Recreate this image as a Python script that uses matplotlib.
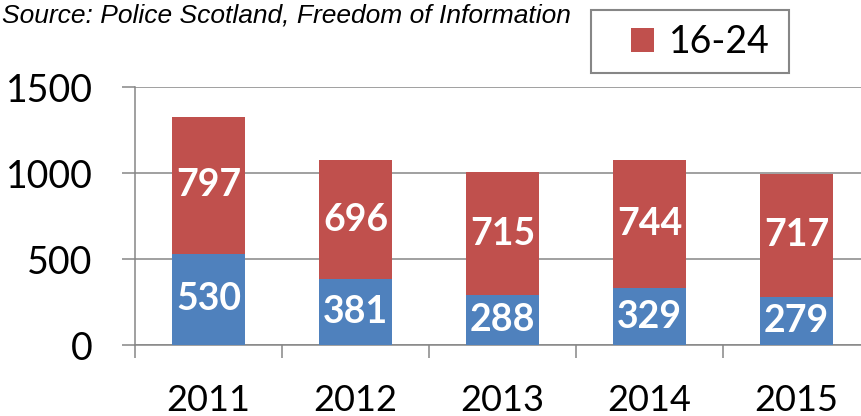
import matplotlib.pyplot as plt
from matplotlib.patches import Rectangle
import numpy as np

years = ["2011", "2012", "2013", "2014", "2015"]
under_16 = [530, 381, 288, 329, 279]
age_16_24 = [797, 696, 715, 744, 717]

blue = "#4F81BD"
red = "#C0504D"
grey = "#868686"

W, H = 861, 416


def px(x, y):
    # pixel position from the top-left corner -> figure fraction
    return x / W, 1 - y / H


def draw_chart():
    fig = plt.figure(figsize=(W / 100, H / 100), dpi=100)
    ax = fig.add_axes([135 / W, 71 / H, 735 / W, 258 / H])

    x = np.arange(len(years))
    bottom_bars = ax.bar(x, under_16, width=0.5, color=blue, zorder=3)
    top_bars = ax.bar(x, age_16_24, width=0.5, bottom=under_16, color=red,
                      zorder=3, label="16-24")

    # value labels in the middle of each segment
    for bars in (bottom_bars, top_bars):
        for rect in bars:
            val = rect.get_height()
            ax.text(rect.get_x() + rect.get_width() / 2,
                    rect.get_y() + val / 2, f"{val:.0f}",
                    ha="center", va="center", color="white",
                    fontsize=27, fontweight="bold", family="Lato", zorder=4)

    ax.set_xlim(-0.5, len(years) - 0.5)
    ax.set_ylim(0, 1500)
    ax.set_yticks([0, 500, 1000, 1500])
    ax.yaxis.grid(True, color=grey, linewidth=1.1, zorder=0)

    # ticks sit between the categories, labels under each bar
    ax.set_xticks(np.arange(len(years) + 1) - 0.5)
    ax.set_xticklabels([])
    ax.set_xticks(x, minor=True)
    ax.set_xticklabels(years, minor=True)
    ax.tick_params(axis="x", which="major", length=9.4, width=1.1, color=grey)
    ax.tick_params(axis="x", which="minor", length=0, pad=28)
    ax.tick_params(axis="y", length=9.4, width=1.1, color=grey, pad=21)
    for lab in ax.get_xticklabels(minor=True):
        lab.set_fontsize(26)
        lab.set_family("Lato")
    for lab in ax.get_yticklabels():
        lab.set_fontsize(27)
        lab.set_family("Lato")

    for side in ("top", "right"):
        ax.spines[side].set_visible(False)
    for side in ("left", "bottom"):
        ax.spines[side].set_color(grey)
        ax.spines[side].set_linewidth(1.1)

    # legend entry without its own frame, boxed separately so the swatch can sit inset
    ax.legend(handles=[top_bars], loc="center left",
              bbox_to_anchor=px(631, 42), bbox_transform=fig.transFigure,
              frameon=False, handlelength=0.62, handleheight=0.62,
              handletextpad=0.4, borderpad=0, borderaxespad=0,
              prop={"family": "Lato", "size": 27})
    x0, y1 = px(591, 10)
    x1, y0 = px(789, 73)
    fig.patches.append(Rectangle((x0, y0), x1 - x0, y1 - y0,
                                 transform=fig.transFigure, fill=False,
                                 edgecolor=grey, linewidth=1.5))

    fig.text(*px(2, 3), "Source: Police Scotland, Freedom of Information",
             ha="left", va="top", fontsize=19, style="italic",
             family="Liberation Sans")

    fig.savefig("out.png", dpi=100)


if __name__ == "__main__":
    draw_chart()
